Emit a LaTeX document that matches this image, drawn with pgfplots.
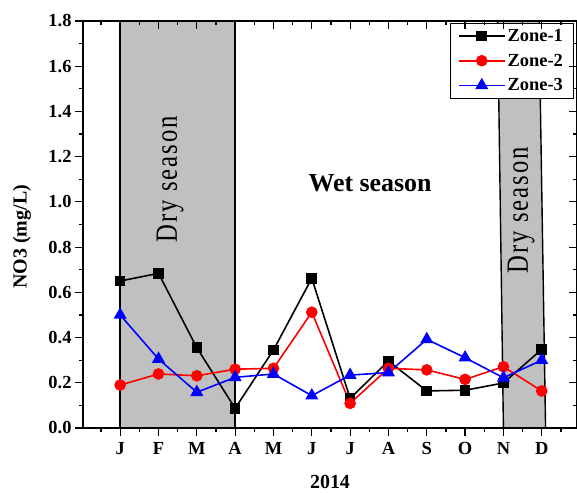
\documentclass[border=0pt]{standalone}
\usepackage{fontspec}
\setmainfont{Liberation Serif}
\usepackage{graphicx}
\usepackage{pgfplots}
\pgfplotsset{compat=1.18}
\definecolor{boxgray}{HTML}{C0C0C0}
\begin{document}
\begin{tikzpicture}
\pgfplotsset{
  common/.style={
    scale only axis, width=494bp, height=407bp,
    xmin=-0.97, xmax=11.92, ymin=0, ymax=1.8,
    xtick={0,1,2,3,4,5,6,7,8,9,10,11},
    minor xtick={-0.5,0.5,1.5,2.5,3.5,4.5,5.5,6.5,7.5,8.5,9.5,10.5,11.5},
    ytick={0,0.2,0.4,0.6,0.8,1.0,1.2,1.4,1.6,1.8},
    minor ytick={0.1,0.3,0.5,0.7,0.9,1.1,1.3,1.5,1.7},
    major tick length=8bp, minor tick length=4bp,
    axis line style={line width=1.2bp},
    every tick/.style={black, line width=1.2bp},
    every minor tick/.style={black, line width=1.2bp},
  }
}
\begin{axis}[common, tick align=outside, xtick pos=left, ytick pos=left,
  axis on top,
  xticklabels={J,F,M,A,M,J,J,A,S,O,N,D},
  /pgf/number format/assume math mode=true,
  yticklabel style={/pgf/number format/fixed, /pgf/number format/fixed zerofill, /pgf/number format/precision=1, xshift=0bp},
  xticklabel style={yshift=-3bp},
  ticklabel style={font=\bfseries\fontsize{18.5}{18.5}\selectfont},
  xlabel={2014}, ylabel={NO3 (mg/L)},
  xlabel style={font=\bfseries\fontsize{20}{20}\selectfont, at={(axis description cs:0.5,-0.132)}, anchor=center},
  ylabel style={font=\bfseries\fontsize{20}{20}\selectfont, at={(axis description cs:-0.1235,0.47)}, anchor=center},
  legend style={at={(0.992,0.995)}, anchor=north east, draw=black, fill=white,
    font=\bfseries\fontsize{18.5}{18.5}\selectfont, inner xsep=8bp, inner ysep=4bp, row sep=7bp,
    cells={anchor=west}},
  legend image code/.code={\draw[mark repeat=2,mark phase=2,#1,line width=1.6bp] plot coordinates {(0bp,0bp)(23bp,0bp)(46bp,0bp)};},
]
% shaded dry-season regions
\addplot[forget plot, fill=boxgray, draw=black, line width=1.4bp] coordinates {(0,0)(0,1.8)(3,1.8)(3,0)} \closedcycle;
\addplot[forget plot, fill=boxgray, draw=black, line width=1.4bp] coordinates {(10,0)(9.85,1.8)(10.93,1.8)(11.1,0)} \closedcycle;

\node[rotate=90] at (axis cs:1.30,1.10) {\scalebox{0.8}[1]{\fontsize{31}{31}\selectfont\addfontfeature{LetterSpace=8}Dry season}};
\node[rotate=90] at (axis cs:10.46,0.964) {\scalebox{0.8}[1]{\fontsize{31}{31}\selectfont\addfontfeature{LetterSpace=8}Dry season}};
\node at (axis cs:6.52,1.084) {\bfseries\fontsize{26}{26}\selectfont Wet season};

\addplot[black, line width=1.6bp, mark=square*, mark size=4.5bp, mark options={solid}] coordinates {
(0,0.650)(1,0.684)(2,0.355)(3,0.087)(4,0.345)(5,0.662)(6,0.131)(7,0.296)(8,0.164)(9,0.167)(10,0.199)(11,0.348)};
\addlegendentry{Zone-1}
\addplot[red, line width=1.6bp, mark=*, mark size=5bp, mark options={solid}] coordinates {
(0,0.190)(1,0.239)(2,0.231)(3,0.260)(4,0.264)(5,0.512)(6,0.109)(7,0.264)(8,0.257)(9,0.215)(10,0.271)(11,0.164)};
\addlegendentry{Zone-2}
\addplot[blue, line width=1.6bp, mark=triangle*, mark size=6bp, mark options={solid}] coordinates {
(0,0.500)(1,0.305)(2,0.158)(3,0.224)(4,0.239)(5,0.143)(6,0.234)(7,0.245)(8,0.392)(9,0.311)(10,0.222)(11,0.300)};
\addlegendentry{Zone-3}

\coordinate (bl) at (rel axis cs:0,0);
\coordinate (tr) at (rel axis cs:1,1);
\end{axis}
\begin{axis}[common, tick align=inside, xtick pos=right, ytick pos=right, xticklabels={}, yticklabels={}]
\end{axis}
\pgfresetboundingbox
\path[use as bounding box] ([xshift=-83bp,yshift=-65bp]bl) rectangle ([yshift=21bp]tr);
\end{tikzpicture}
\end{document}
